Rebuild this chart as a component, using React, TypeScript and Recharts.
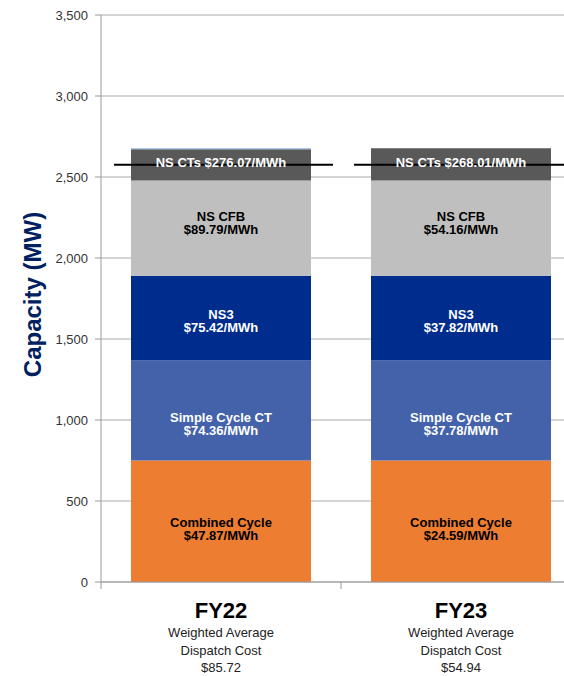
import React from 'react';
import { ComposedChart, Bar, Line, XAxis, YAxis, CartesianGrid, LabelList } from 'recharts';

const categories = ['FY22', 'FY23'];
const combinedCycle = [750, 750];
const simpleCycle = [618, 618];
const ns3 = [522, 522];
const nsCfb = [588, 588];
const nsCts = [194, 200];
const other = [6, 0];
const peakLoad = [2575, 2575];
const dispatchCost = ['$85.72', '$54.94'];

const ccCost = ['$47.87/MWh', '$24.59/MWh'];
const scCost = ['$74.36/MWh', '$37.78/MWh'];
const ns3Cost = ['$75.42/MWh', '$37.82/MWh'];
const cfbCost = ['$89.79/MWh', '$54.16/MWh'];
const ctsCost = ['$276.07/MWh', '$268.01/MWh'];

const yTicks = [0, 500, 1000, 1500, 2000, 2500, 3000, 3500];

const data = categories.map((c, i) => ({
  name: c,
  cc: combinedCycle[i],
  sc: simpleCycle[i],
  ns3: ns3[i],
  cfb: nsCfb[i],
  cts: nsCts[i],
  other: other[i],
  peak: peakLoad[i],
}));

const FONT = '"Liberation Sans", Arial, sans-serif';
const CHART_W = 600;
const CHART_H = 676;
const M_RIGHT = 19;
const Y_W = 101;
const PLOT_W = CHART_W - M_RIGHT - Y_W;
const HALF_BAND = PLOT_W / categories.length / 2;

const makeLabel = (title: string, costs: string[], color: string, shift: number, single = false) => (props: any) => {
  const { x, y, width, height, index } = props;
  const cx = x + width / 2;
  const cy = y + height / 2 + shift;
  if (single) {
    return (
      <text x={cx} y={cy + 2.5} textAnchor="middle" fill={color} fontFamily={FONT} fontWeight={700} fontSize={13}>
        {title} {costs[index]}
      </text>
    );
  }
  return (
    <g>
      <text x={cx} y={cy} textAnchor="middle" fill={color} fontFamily={FONT} fontWeight={700} fontSize={13}>
        {title}
      </text>
      <text x={cx} y={cy + 12.5} textAnchor="middle" fill={color} fontFamily={FONT} fontWeight={700} fontSize={13}>
        {costs[index]}
      </text>
    </g>
  );
};

const XTick = (props: any) => {
  const { x, y, payload, index } = props;
  const i = categories.indexOf(payload.value);
  return (
    <g>
      <line x1={x + HALF_BAND} x2={x + HALF_BAND} y1={y} y2={y + 7} stroke="#999" strokeWidth={1} />
      {index === 0 && <line x1={x - HALF_BAND} x2={x - HALF_BAND} y1={y} y2={y + 7} stroke="#999" strokeWidth={1} />}
      <text x={x} y={y + 36} textAnchor="middle" fill="#000" fontFamily={FONT} fontWeight={700} fontSize={22}>
        {payload.value}
      </text>
      <text x={x} y={y + 55} textAnchor="middle" fill="#222" fontFamily={FONT} fontSize={13}>
        Weighted Average
      </text>
      <text x={x} y={y + 73} textAnchor="middle" fill="#222" fontFamily={FONT} fontSize={13}>
        Dispatch Cost
      </text>
      <text x={x} y={y + 90} textAnchor="middle" fill="#222" fontFamily={FONT} fontSize={13}>
        {dispatchCost[i]}
      </text>
    </g>
  );
};

const Dash = (props: any) => {
  const { cx, cy } = props;
  if (cx == null || cy == null) return null;
  return <line x1={cx - 107} x2={cx + 112} y1={cy} y2={cy} stroke="#000" strokeWidth={2} />;
};

const YLabel = (props: any) => {
  const vb = props.viewBox || { x: 0, y: 15, width: 101, height: 567 };
  const cx = 41;
  const cy = vb.y + vb.height / 2 - 4;
  return (
    <text x={cx} y={cy} transform={`rotate(-90, ${cx}, ${cy})`} textAnchor="middle" fill="#002060" fontFamily={FONT} fontWeight={700} fontSize={24}>
      Capacity (MW)
    </text>
  );
};

export default function App() {
  return (
    <div style={{ position: 'absolute', left: 0, top: 0, width: 564, height: 676, overflow: 'hidden', background: '#fff' }}>
      <ComposedChart width={CHART_W} height={CHART_H} data={data} margin={{ top: 15, right: M_RIGHT, left: 0, bottom: 0 }} barSize={180}>
        <CartesianGrid horizontal vertical={false} stroke="#aaa" strokeWidth={1} />
        <XAxis dataKey="name" height={94} tickSize={0} tickMargin={0} tickLine={false} axisLine={{ stroke: '#999' }} tick={<XTick />} interval={0} />
        <YAxis
          width={Y_W}
          domain={[0, 3500]}
          ticks={yTicks}
          interval={0}
          tickFormatter={(v: number) => v.toLocaleString('en-US')}
          axisLine={{ stroke: '#999' }}
          tickLine={{ stroke: '#999' }}
          tickSize={6}
          tickMargin={7}
          tick={{ fill: '#333', fontSize: 13, fontFamily: FONT }}
          label={<YLabel />}
        />
        <Bar dataKey="cc" stackId="a" fill="#ED7D31" isAnimationActive={false}>
          <LabelList dataKey="cc" content={makeLabel('Combined Cycle', ccCost, '#000', 6)} />
        </Bar>
        <Bar dataKey="sc" stackId="a" fill="#4462A9" isAnimationActive={false}>
          <LabelList dataKey="sc" content={makeLabel('Simple Cycle CT', scCost, '#fff', 12)} />
        </Bar>
        <Bar dataKey="ns3" stackId="a" fill="#002D8D" isAnimationActive={false}>
          <LabelList dataKey="ns3" content={makeLabel('NS3', ns3Cost, '#fff', 1)} />
        </Bar>
        <Bar dataKey="cfb" stackId="a" fill="#BFBFBF" isAnimationActive={false}>
          <LabelList dataKey="cfb" content={makeLabel('NS CFB', cfbCost, '#000', -7)} />
        </Bar>
        <Bar dataKey="cts" stackId="a" fill="#595959" isAnimationActive={false}>
          <LabelList dataKey="cts" content={makeLabel('NS CTs', ctsCost, '#fff', 0, true)} />
        </Bar>
        <Bar dataKey="other" stackId="a" fill="#8DB4E2" isAnimationActive={false} />
        <Line dataKey="peak" stroke="none" dot={<Dash />} activeDot={false} isAnimationActive={false} legendType="none" />
      </ComposedChart>
    </div>
  );
}
